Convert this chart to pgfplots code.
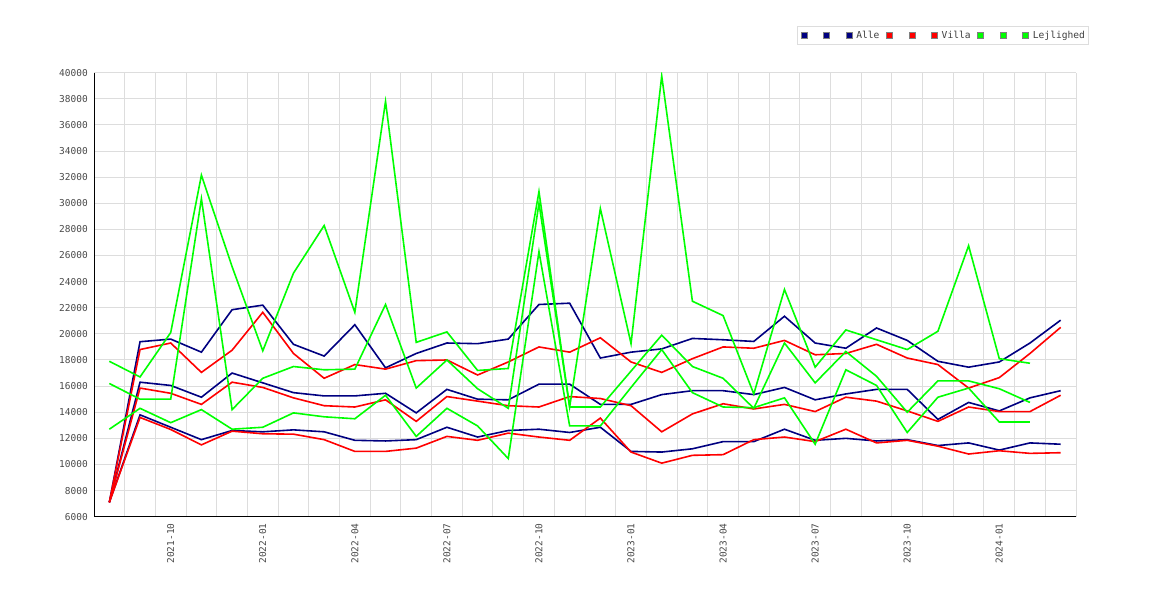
\documentclass[border=0pt]{standalone}
\usepackage{fontspec}
\setmainfont{DejaVu Sans}
\setmonofont{DejaVu Sans Mono}
\usepackage{pgfplots}
\usepackage{pgfplotstable}
\pgfplotsset{compat=1.18}
\definecolor{cnavy}{HTML}{000080}
\definecolor{cred}{HTML}{FF0000}
\definecolor{cgreen}{HTML}{00FF00}
\definecolor{cgrid}{HTML}{DDDDDD}
\definecolor{ctick}{HTML}{4A4A4A}

\pgfplotstableread{
i  au    am    al    vu    vm    vl    lu    lm    ll
0  7100  7100  7100  7100  7100  7100  17900 16200 12700
1  19400 16300 13800 18800 15850 13600 16700 15000 14300
2  19600 16050 12850 19300 15450 12680 20100 15000 13200
3  18600 15150 11900 17050 14600 11500 32150 30350 14200
4  21850 17000 12600 18750 16300 12550 25150 14200 12700
5  22200 16250 12500 21650 15900 12350 18700 16600 12850
6  19200 15500 12650 18500 15100 12320 24650 17500 13950
7  18300 15250 12500 16600 14500 11900 28300 17250 13650
8  20700 15250 11850 17650 14400 11000 21650 17300 13500
9  17400 15450 11800 17300 14950 11000 37800 22250 15300
10 18500 13950 11900 17950 13300 11250 19350 15850 12150
11 19300 15750 12850 18000 15200 12150 20150 18000 14300
12 19250 15000 12100 16850 14850 11850 17200 15800 12950
13 19600 14950 12600 17850 14500 12400 17350 14300 10450
14 22250 16150 12700 19000 14400 12100 30900 30000 26300
15 22350 16150 12450 18600 15200 11850 14400 14400 12950
16 18150 14600 12850 19700 15050 13550 29600 14400 12950
17 18600 14600 11000 17850 14500 10950 19250 17150 15900
18 18850 15350 10950 17050 12500 10100 39750 19900 18800
19 19650 15650 11200 18100 13870 10700 22500 17500 15500
20 19550 15650 11750 19000 14650 10750 21400 16600 14400
21 19420 15350 11750 18900 14250 11900 15400 14300 14350
22 21350 15900 12700 19500 14600 12100 23400 19300 15100
23 19300 14950 11850 18400 14050 11750 17450 16250 11550
24 18900 15400 12000 18500 15150 12700 20300 18650 17250
25 20450 15750 11800 19200 14850 11650 19550 16750 16050
26 19500 15750 11900 18150 14100 11850 18800 14000 12450
27 17900 13450 11450 17650 13300 11400 20200 16400 15150
28 17450 14750 11650 15850 14400 10800 26750 16400 15850
29 17850 14100 11100 16650 14050 11050 18100 15800 13250
30 19300 15100 11650 18500 14050 10850 17750 14750 13250
31 21050 15650 11550 20500 15300 10900 nan   nan   nan
}\data

\begin{document}
\begin{tikzpicture}
\begin{axis}[
  scale only axis, width=982pt, height=444pt,
  at={(0pt,0pt)}, anchor=south west,
  xmin=-0.5, xmax=31.5, ymin=6000, ymax=40000,
  axis lines=left, axis line style={-, black, line width=1pt},
  xtick={2,5,...,29},
  xticklabels={2021-10,2022-01,2022-04,2022-07,2022-10,2023-01,2023-04,2023-07,2023-10,2024-01},
  minor xtick={-0.5,0.5,...,31.5},
  ytick={6000,8000,...,40000},
  scaled y ticks=false,
  xminorgrids=true, xmajorgrids=false, ymajorgrids=true,
  grid style={cgrid, line width=1pt},
  minor grid style={cgrid, line width=1pt},
  major tick length=0pt, minor tick length=0pt,
  ticklabel style={font=\ttfamily\fontsize{9.5}{11}\selectfont, text=ctick},
  xticklabel style={rotate=90, anchor=east},
  xticklabel shift=3.3pt, yticklabel shift=2.7pt,
  /pgf/number format/assume math mode=true,
  /pgf/number format/1000 sep={},
  unbounded coords=jump,
  legend columns=9,
  legend style={at={(axis description cs:0.7159,1.1052)}, anchor=north west,
    draw=cgrid, line width=1pt, fill=white,
    font=\ttfamily\fontsize{9.6}{12}\selectfont, text=black!75,
    inner xsep=3pt, inner ysep=3.5pt, nodes={inner sep=1pt},
    /tikz/every odd column/.append style={column sep=3pt},
    /tikz/every even column/.append style={column sep=5.5pt}},
  legend image code/.code={\draw[#1, fill, draw=gray, line width=0.6pt] (0pt,-3pt) rectangle (6pt,3pt);},
]
\addplot[cnavy, line width=1.6pt, mark=none] table[x=i,y=au]{\data};
\addlegendentry{\hspace*{5.5pt}}
\addplot[cnavy, line width=1.6pt, mark=none] table[x=i,y=am]{\data};
\addlegendentry{\hspace*{5.5pt}}
\addplot[cnavy, line width=1.6pt, mark=none] table[x=i,y=al]{\data};
\addlegendentry{Alle}
\addplot[cred, line width=1.6pt, mark=none] table[x=i,y=vu]{\data};
\addlegendentry{\hspace*{5.5pt}}
\addplot[cred, line width=1.6pt, mark=none] table[x=i,y=vm]{\data};
\addlegendentry{\hspace*{5.5pt}}
\addplot[cred, line width=1.6pt, mark=none] table[x=i,y=vl]{\data};
\addlegendentry{Villa}
\addplot[cgreen, line width=1.6pt, mark=none] table[x=i,y=lu]{\data};
\addlegendentry{\hspace*{5.5pt}}
\addplot[cgreen, line width=1.6pt, mark=none] table[x=i,y=lm]{\data};
\addlegendentry{\hspace*{5.5pt}}
\addplot[cgreen, line width=1.6pt, mark=none] table[x=i,y=ll]{\data};
\addlegendentry{Lejlighed}
\end{axis}
\pgfresetboundingbox
\path[use as bounding box] (-94pt,-83.3pt) rectangle (1076pt,516.7pt);
\end{tikzpicture}
\end{document}
